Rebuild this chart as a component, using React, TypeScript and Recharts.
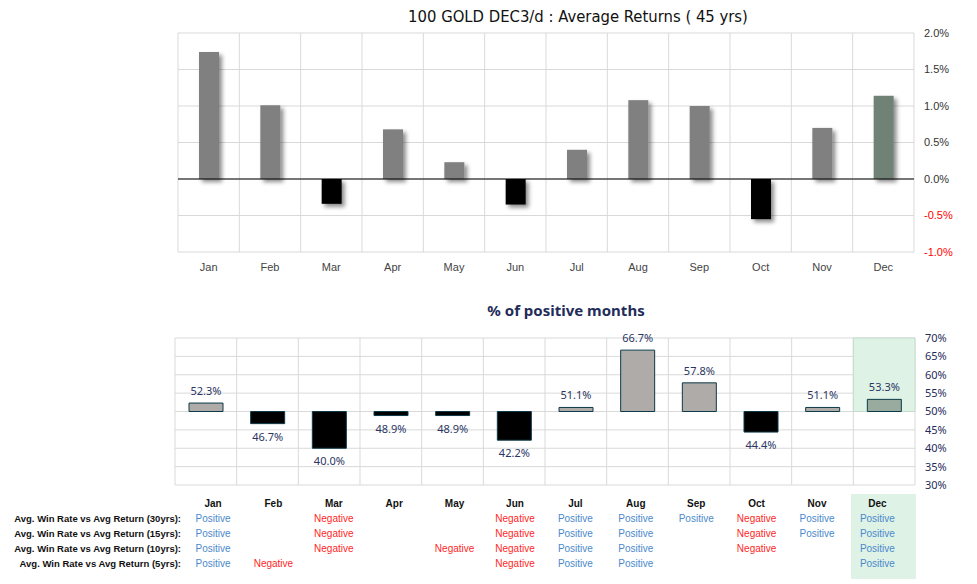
import {
  BarChart,
  Bar,
  XAxis,
  YAxis,
  CartesianGrid,
  ReferenceArea,
  ReferenceLine,
  Cell,
  LabelList,
} from "recharts";

const MONTHS = ["Jan", "Feb", "Mar", "Apr", "May", "Jun", "Jul", "Aug", "Sep", "Oct", "Nov", "Dec"];

// average monthly return, %
const AVG_RETURNS = [1.74, 1.01, -0.34, 0.68, 0.23, -0.35, 0.4, 1.08, 1.0, -0.55, 0.7, 1.14];
const RETURN_TICKS = [-1, -0.5, 0, 0.5, 1, 1.5, 2];

// share of positive months, %
const POSITIVE_PCT = [52.3, 46.7, 40.0, 48.9, 48.9, 42.2, 51.1, 66.7, 57.8, 44.4, 51.1, 53.3];
const PCT_TICKS = [30, 35, 40, 45, 50, 55, 60, 65, 70];

const TABLE_LABELS = [
  "Avg. Win Rate vs Avg Return (30yrs):",
  "Avg. Win Rate vs Avg Return (15yrs):",
  "Avg. Win Rate vs Avg Return (10yrs):",
  "Avg. Win Rate vs Avg Return (5yrs):",
];
const SIGNALS_30 = ["Positive", "", "Negative", "", "", "Negative", "Positive", "Positive", "Positive", "Negative", "Positive", "Positive"];
const SIGNALS_15 = ["Positive", "", "Negative", "", "", "Negative", "Positive", "Positive", "", "Negative", "Positive", "Positive"];
const SIGNALS_10 = ["Positive", "", "Negative", "", "Negative", "Negative", "Positive", "Positive", "", "Negative", "", "Positive"];
const SIGNALS_5 = ["Positive", "Negative", "", "", "", "Negative", "Positive", "Positive", "", "", "", "Positive"];
const SIGNAL_ROWS = [SIGNALS_30, SIGNALS_15, SIGNALS_10, SIGNALS_5];

const HIGHLIGHT = "Dec";
const GRID = "#d9d9d9";
const GREEN_FILL = "#dff2e6";
const GREEN_EDGE = "#c3dccb";
const NAVY = "#1f2d5a";
const AXIS_FONT = "'Liberation Sans', Arial, sans-serif";
const NOTO = "'Noto Sans', 'Liberation Sans', sans-serif";

const topData = MONTHS.map((m, i) => ({ month: m, ret: AVG_RETURNS[i] }));
const bottomData = MONTHS.map((m, i) => ({
  month: m,
  pct: POSITIVE_PCT[i],
  range: POSITIVE_PCT[i] >= 50 ? [50, POSITIVE_PCT[i]] : [POSITIVE_PCT[i], 50],
}));

const TOP_LEFT = 178;
const TOP_RIGHT = 914;
const BOT_LEFT = 175;
const BOT_RIGHT = 915;

const columnLines = (left: number, right: number) => () =>
  Array.from({ length: 13 }, (_, i) => left + (i * (right - left)) / 12);

function topBarColor(month: string, v: number) {
  if (month === HIGHLIGHT) return "#6f8276";
  return v >= 0 ? "#808080" : "#000000";
}

function bottomBarColor(month: string, v: number) {
  if (month === HIGHLIGHT) return "#99aa9e";
  return v >= 50 ? "#aeaba9" : "#000000";
}

function ShadowBar(props: any) {
  const { x, y, width, height, fill } = props;
  if (!width || !height) return null;
  const top = Math.min(y, y + height);
  const h = Math.abs(height);
  return <rect x={x} y={top} width={width} height={h} fill={fill} filter="url(#barShadow)" />;
}

function ReturnTick(props: any) {
  const { x, y, payload } = props;
  const v = Number(payload.value);
  return (
    <text x={x} y={y} dy="0.355em" textAnchor="start" fontSize={11} fontFamily={AXIS_FONT} fill={v < 0 ? "#ff0000" : "#333"}>
      {`${v.toFixed(1)}%`}
    </text>
  );
}

function PctLabel(props: any) {
  const { x, y, width, height, index } = props;
  const v = POSITIVE_PCT[index];
  const top = Math.min(y, y + height);
  const bottom = Math.max(y, y + height);
  const ty = v >= 50 ? top - 8 : bottom + 17;
  return (
    <text x={x + width / 2} y={ty} textAnchor="middle" fontSize={11} fontFamily={NOTO} fill="#2a3563">
      {`${v.toFixed(1)}%`}
    </text>
  );
}

export default function App() {
  return (
    <div style={{ position: "absolute", left: 0, top: 0, width: 977, height: 584, background: "#fff", overflow: "hidden" }}>
      <svg width={0} height={0} style={{ position: "absolute" }}>
        <defs>
          <filter id="barShadow" x="-30%" y="-30%" width="180%" height="180%">
            <feDropShadow dx={3} dy={3} stdDeviation={2} floodColor="#000" floodOpacity={0.45} />
          </filter>
        </defs>
      </svg>

      <div
        style={{
          position: "absolute",
          left: 0,
          width: 1156,
          top: 7,
          textAlign: "center",
          fontFamily: "'Liberation Sans Narrow', 'DejaVu Sans Condensed', sans-serif",
          fontSize: 16.5,
          color: "#111",
          whiteSpace: "nowrap",
        }}
      >
        100 GOLD DEC3/d : Average Returns ( 45 yrs)
      </div>

      <div style={{ position: "absolute", left: 0, top: 0 }}>
        <BarChart width={977} height={290} data={topData} margin={{ top: 33, right: 13, bottom: 0, left: TOP_LEFT }}>
          <CartesianGrid stroke={GRID} verticalCoordinatesGenerator={columnLines(TOP_LEFT, TOP_RIGHT)} />
          <ReferenceArea x1={HIGHLIGHT} x2={HIGHLIGHT} y1={0} y2={2} fill={GREEN_FILL} fillOpacity={1} stroke={GREEN_EDGE} />
          <XAxis
            dataKey="month"
            axisLine={false}
            tickLine={false}
            tickSize={0}
            tickMargin={11}
            height={38}
            interval={0}
            tick={{ fontSize: 11, fill: "#444", fontFamily: AXIS_FONT }}
          />
          <YAxis
            orientation="right"
            domain={[-1, 2]}
            ticks={RETURN_TICKS}
            interval={0}
            axisLine={false}
            tickLine={false}
            tickSize={0}
            tickMargin={10}
            width={50}
            tick={<ReturnTick />}
          />
          <Bar dataKey="ret" barSize={20} shape={<ShadowBar />} isAnimationActive={false}>
            {topData.map((d) => (
              <Cell key={d.month} fill={topBarColor(d.month, d.ret)} />
            ))}
          </Bar>
          <ReferenceLine y={0} stroke="#000" strokeWidth={1} />
        </BarChart>
      </div>

      <div
        style={{
          position: "absolute",
          left: 0,
          width: 1132,
          top: 300,
          textAlign: "center",
          fontFamily: NOTO,
          fontWeight: 700,
          fontSize: 15,
          color: NAVY,
          whiteSpace: "nowrap",
        }}
      >
        % of positive months
      </div>

      <div style={{ position: "absolute", left: 0, top: 290 }}>
        <BarChart width={977} height={205} data={bottomData} margin={{ top: 48, right: 12, bottom: 10, left: BOT_LEFT }}>
          <CartesianGrid stroke={GRID} verticalCoordinatesGenerator={columnLines(BOT_LEFT, BOT_RIGHT)} />
          <ReferenceArea x1={HIGHLIGHT} x2={HIGHLIGHT} y1={50} y2={70} fill={GREEN_FILL} fillOpacity={1} stroke={GREEN_EDGE} />
          <XAxis dataKey="month" hide />
          <YAxis
            orientation="right"
            domain={[30, 70]}
            ticks={PCT_TICKS}
            interval={0}
            allowDataOverflow
            axisLine={false}
            tickLine={false}
            tickSize={0}
            tickMargin={10}
            width={50}
            tickFormatter={(v) => `${v}%`}
            tick={{ fontSize: 11, fill: NAVY, fontFamily: NOTO, textAnchor: "start" }}
          />
          <Bar dataKey="range" barSize={34} stroke="#0d3a48" strokeWidth={1} isAnimationActive={false}>
            {bottomData.map((d) => (
              <Cell key={d.month} fill={bottomBarColor(d.month, d.pct)} />
            ))}
            <LabelList dataKey="pct" content={<PctLabel />} />
          </Bar>
        </BarChart>
      </div>

      {/* signal table */}
      <div
        style={{
          position: "absolute",
          left: 851,
          top: 494,
          width: 65,
          height: 85,
          background: GREEN_FILL,
        }}
      />
      {MONTHS.map((m, i) => (
        <div
          key={m}
          style={{
            position: "absolute",
            left: 213 + i * 60.4 - 30,
            width: 60,
            top: 498,
            textAlign: "center",
            fontFamily: AXIS_FONT,
            fontWeight: 700,
            fontSize: 10,
            color: "#111",
          }}
        >
          {m}
        </div>
      ))}
      {TABLE_LABELS.map((label, r) => (
        <div key={label}>
          <div
            style={{
              position: "absolute",
              right: 977 - 181,
              top: 513 + r * 15,
              fontFamily: AXIS_FONT,
              fontWeight: 700,
              fontSize: 9.5,
              color: "#111",
              whiteSpace: "nowrap",
            }}
          >
            {label}
          </div>
          {SIGNAL_ROWS[r].map((s, i) =>
            s ? (
              <div
                key={i}
                style={{
                  position: "absolute",
                  left: 213 + i * 60.4 - 30,
                  width: 60,
                  top: 513 + r * 15,
                  textAlign: "center",
                  fontFamily: AXIS_FONT,
                  fontSize: 10,
                  color: s === "Positive" ? "#4a89cc" : "#ff1f1f",
                }}
              >
                {s}
              </div>
            ) : null
          )}
        </div>
      ))}
    </div>
  );
}
